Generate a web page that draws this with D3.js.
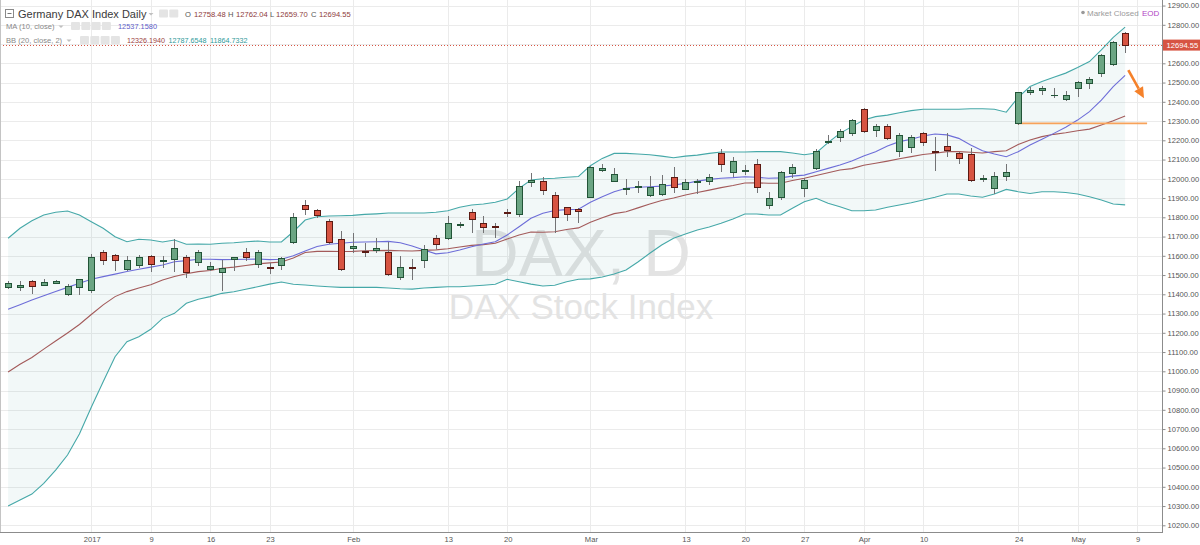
<!DOCTYPE html>
<html><head><meta charset="utf-8">
<script src="https://cdn.jsdelivr.net/npm/d3@7"></script>
<style>
html,body{margin:0;padding:0;background:#fff;overflow:hidden}
svg{display:block}
text{font-family:"Liberation Sans",Arial,sans-serif}
</style>
</head><body>
<svg id="c" width="1200" height="545"></svg>
<script>
// ---------------- DATA ----------------
const dates = [
"2016-12-21","2016-12-22","2016-12-23","2016-12-27","2016-12-28","2016-12-29","2016-12-30",
"2017-01-02","2017-01-03","2017-01-04","2017-01-05","2017-01-06","2017-01-09","2017-01-10","2017-01-11","2017-01-12","2017-01-13",
"2017-01-16","2017-01-17","2017-01-18","2017-01-19","2017-01-20","2017-01-23","2017-01-24","2017-01-25","2017-01-26","2017-01-27",
"2017-01-30","2017-01-31","2017-02-01","2017-02-02","2017-02-03","2017-02-06","2017-02-07","2017-02-08","2017-02-09","2017-02-10",
"2017-02-13","2017-02-14","2017-02-15","2017-02-16","2017-02-17","2017-02-20","2017-02-21","2017-02-22","2017-02-23","2017-02-24",
"2017-02-27","2017-02-28","2017-03-01","2017-03-02","2017-03-03","2017-03-06","2017-03-07","2017-03-08","2017-03-09","2017-03-10",
"2017-03-13","2017-03-14","2017-03-15","2017-03-16","2017-03-17","2017-03-20","2017-03-21","2017-03-22","2017-03-23","2017-03-24",
"2017-03-27","2017-03-28","2017-03-29","2017-03-30","2017-03-31","2017-04-03","2017-04-04","2017-04-05","2017-04-06","2017-04-07",
"2017-04-10","2017-04-11","2017-04-12","2017-04-13","2017-04-18","2017-04-19","2017-04-20","2017-04-21",
"2017-04-24","2017-04-25","2017-04-26","2017-04-27","2017-04-28","2017-05-02","2017-05-03","2017-05-04","2017-05-05","2017-05-08"];
const futureDates = ["2017-05-09"];

const open = [11437,11440,11471,11450,11461,11403,11436,
11421,11621,11603,11530,11554,11601,11572,11582,11592,11569,
11532,11515,11584,11618,11557,11540,11551,11670,11862,11838,
11782,11686,11641,11626,11628,11620,11491,11541,11578,11692,
11691,11761,11829,11772,11755,11827,11816,11984,11987,11915,
11852,11845,11908,12045,11990,11948,11957,11915,11919,12011,
11949,11981,11990,12136,12034,12043,12077,11864,11907,12029,
11954,12055,12190,12216,12236,12364,12253,12274,12143,12167,
12236,12145,12171,12136,12129,11998,11952,12012,
12288,12451,12460,12433,12413,12470,12496,12548,12596,12758.48];
const high = [11468,11469,11473,11478,11476,11452,11482,
11609,11630,11609,11599,11603,11605,11597,11686,11604,11630,
11569,11578,11595,11639,11630,11561,11595,11824,11890,11843,
11790,11730,11720,11668,11691,11673,11599,11585,11656,11706,
11807,11777,11843,11807,11772,11843,11986,12028,12011,11932,
11855,11848,12068,12076,12054,11997,11990,12014,12019,12059,
12001,11997,12025,12153,12112,12071,12101,11932,12041,12076,
12003,12153,12228,12257,12309,12367,12285,12285,12236,12228,
12243,12219,12236,12141,12159,12021,12034,12077,
12453,12479,12483,12470,12458,12508,12527,12647,12716,12762.04];
const low = [11432,11422,11408,11446,11458,11398,11403,
11413,11557,11526,11526,11543,11519,11543,11519,11488,11552,
11526,11422,11526,11578,11543,11509,11533,11665,11816,11803,
11665,11526,11621,11599,11621,11500,11478,11478,11543,11639,
11686,11751,11725,11725,11696,11807,11807,11964,11921,11725,
11786,11777,11905,12040,11988,11919,11933,11911,11914,11933,
11945,11924,11973,12042,12014,12025,11933,11848,11893,12007,
11911,12050,12185,12198,12228,12245,12222,12205,12119,12141,
12176,12045,12119,12084,11990,11987,11925,11994,
12287,12440,12440,12423,12409,12430,12473,12534,12591,12659.70];
const close = [11460,11450,11442,11466,11470,11445,11478,
11592,11578,11578,11578,11592,11560,11578,11639,11514,11621,
11547,11535,11592,11592,11621,11536,11587,11800,11841,11810,
11673,11530,11652,11622,11643,11504,11540,11537,11636,11661,
11768,11766,11790,11751,11752,11822,11963,11994,11944,11800,
11816,11832,12063,12055,12023,11953,11962,11959,11973,11956,
11984,11987,12007,12077,12092,12047,11956,11899,12036,12060,
11994,12145,12197,12250,12305,12250,12276,12210,12226,12219,
12193,12138,12150,12107,11994,12003,12012,12034,
12452,12463,12470,12437,12433,12502,12521,12643,12712,12694.55];

const ma10 = [11322,11346,11370,11392,11414,11436,11457,
11478,11492,11505,11518,11530,11541,11552,11569,11575,11582,
11582,11580,11581,11582,11583,11580,11582,11600,11625,11648,
11660,11665,11670,11672,11673,11675,11668,11651,11630,11610,
11616,11630,11647,11661,11673,11708,11751,11795,11821,11835,
11840,11842,11878,11907,11933,11951,11956,11959,11962,11968,
11976,11988,11997,12003,12006,12011,12008,12003,12005,12014,
12019,12037,12054,12072,12092,12118,12141,12170,12193,12205,
12222,12233,12228,12210,12176,12146,12129,12115,
12141,12176,12205,12236,12268,12305,12349,12409,12479,12537.158];
const bbBasis = [10996,11037,11072,11115,11157,11199,11243,
11295,11345,11388,11414,11433,11450,11474,11492,11507,11518,
11524,11535,11541,11550,11558,11563,11568,11589,11617,11623,
11623,11622,11623,11626,11627,11628,11626,11625,11628,11631,
11637,11646,11654,11658,11665,11687,11708,11724,11722,11725,
11737,11745,11774,11798,11819,11829,11849,11869,11887,11900,
11916,11929,11941,11954,11965,11978,11979,11977,11977,11991,
12003,12017,12031,12046,12053,12070,12081,12092,12104,12115,
12126,12133,12141,12141,12138,12134,12141,12146,
12178,12202,12219,12231,12239,12250,12258,12280,12302,12326.194];
const bbUpper = [11691,11743,11782,11812,11826,11833,11812,
11777,11743,11699,11673,11686,11682,11672,11682,11660,11661,
11660,11665,11668,11673,11677,11672,11672,11725,11786,11803,
11807,11808,11810,11815,11818,11822,11822,11822,11822,11826,
11834,11852,11864,11869,11878,11895,11950,11994,12000,12003,
12008,12012,12068,12106,12132,12132,12129,12125,12118,12109,
12118,12123,12132,12139,12139,12139,12141,12141,12141,12134,
12125,12134,12188,12236,12271,12305,12323,12331,12343,12354,
12361,12361,12361,12361,12364,12364,12361,12346,
12423,12479,12505,12528,12549,12578,12609,12670,12735,12787.6548];
const bbLower = [10300,10331,10362,10418,10487,10565,10674,
10813,10946,11076,11154,11180,11218,11275,11301,11353,11374,
11388,11405,11413,11426,11439,11453,11464,11452,11448,11443,
11439,11436,11436,11436,11436,11433,11429,11427,11433,11436,
11439,11439,11443,11447,11452,11478,11465,11453,11443,11447,
11465,11478,11480,11490,11505,11526,11568,11613,11656,11691,
11713,11734,11750,11769,11791,11817,11817,11812,11812,11847,
11881,11899,11873,11855,11834,11834,11838,11852,11864,11876,
11890,11904,11921,11921,11911,11904,11921,11945,
11933,11924,11933,11933,11929,11921,11907,11890,11869,11864.7332];

const yTickValues = [10200,10300,10400,10500,10600,10700,10800,10900,11000,11100,11200,11300,11400,11500,
11600,11700,11800,11900,12000,12100,12200,12300,12400,12500,12600,12700,12800,12900];
const xTickDates = ["2017-01-02","2017-01-09","2017-01-16","2017-01-23","2017-02-01","2017-02-13","2017-02-20",
"2017-03-01","2017-03-13","2017-03-20","2017-03-27","2017-04-03","2017-04-10","2017-04-24","2017-05-02","2017-05-09"];
const xTickLabels = ["2017","9","16","23","Feb","13","20","Mar","13","20","27","Apr","10","24","May","9"];

const titleText = "Germany DAX Index Daily";
const ohlcLabels = ["O","H","L","C"];
const ohlcValues = ["12758.48","12762.04","12659.70","12694.55"];
const maLegend = "MA (10, close)", maValue = "12537.1580";
const bbLegend = "BB (20, close, 2)", bbValues = ["12326.1940","12787.6548","11864.7332"];
const lastPrice = 12694.55;
const supportLevel = {from:"2017-04-24", to:"2017-05-09", value:12288};
const arrowNote = {from:[94.27,12565], to:[95.59,12418]}; // [bar index, price]

// ---------------- LAYOUT ----------------
const W = 1200, H = 545, plotR = 1162, plotB = 532;
const svg = d3.select("#c");
const allDates = dates.concat(futureDates);
const x = d3.scalePoint().domain(allDates).range([8.1, 1137]);
const step = x.step();
const xi = i => x.range()[0] + i * step;
const y = d3.scaleLinear().domain([10200, 12900]).range([525.3, 5.55]);
const px = v => Math.round(v) + 0.5;

// grid
const grid = svg.append("g");
grid.selectAll("line.h").data(yTickValues).join("line").attr("class","h")
  .attr("x1",0).attr("x2",plotR).attr("y1",d=>px(y(d))).attr("y2",d=>px(y(d)))
  .attr("stroke","#ebebeb").attr("stroke-width",1);
grid.selectAll("line.v").data(xTickDates).join("line").attr("class","v")
  .attr("x1",d=>px(x(d))).attr("x2",d=>px(x(d))).attr("y1",0).attr("y2",plotB)
  .attr("stroke","#ebebeb").attr("stroke-width",1);

// watermark
svg.append("text").attr("x",plotR/2).attr("y",276).attr("text-anchor","middle")
  .attr("font-size",66).attr("fill","#e3e3e3").text("DAX, D");
svg.append("text").attr("x",plotR/2).attr("y",319).attr("text-anchor","middle")
  .attr("font-size",35).attr("fill","#e3e3e3").text("DAX Stock Index");

// Bollinger fill
const idx = d3.range(dates.length);
svg.append("path").datum(idx)
  .attr("d", d3.area().x(i=>x(dates[i])).y0(i=>y(bbLower[i])).y1(i=>y(bbUpper[i])))
  .attr("fill","rgba(25,135,135,0.055)");

const lineGen = arr => d3.line().x(i=>x(dates[i])).y(i=>y(arr[i]))(idx);
svg.append("path").attr("d",lineGen(bbUpper)).attr("fill","none").attr("stroke","#45a8a8").attr("stroke-width",1.1);
svg.append("path").attr("d",lineGen(bbLower)).attr("fill","none").attr("stroke","#45a8a8").attr("stroke-width",1.1);
svg.append("path").attr("d",lineGen(bbBasis)).attr("fill","none").attr("stroke","#a35a5a").attr("stroke-width",1.1);
svg.append("path").attr("d",lineGen(ma10)).attr("fill","none").attr("stroke","#6d6dd8").attr("stroke-width",1.1);

// support line
svg.append("line")
  .attr("x1",x(supportLevel.from)-1).attr("x2",x(supportLevel.to)+step*0.85)
  .attr("y1",y(supportLevel.value)).attr("y2",y(supportLevel.value))
  .attr("stroke","#f7a25a").attr("stroke-width",1.6);

// last price dotted line
svg.append("line").attr("x1",0).attr("x2",plotR)
  .attr("y1",px(y(lastPrice))).attr("y2",px(y(lastPrice)))
  .attr("stroke","#d75442").attr("stroke-width",1).attr("stroke-dasharray","1,2");

// candles
const cg = svg.append("g");
idx.forEach(i=>{
  const up = close[i] >= open[i];
  const c = Math.round(x(dates[i]));
  cg.append("line").attr("x1",c+0.5).attr("x2",c+0.5)
    .attr("y1",Math.round(y(high[i]))).attr("y2",Math.round(y(low[i]))+1)
    .attr("stroke","#737375").attr("stroke-width",1);
  const yt = Math.round(y(Math.max(open[i],close[i])));
  const yb = Math.round(y(Math.min(open[i],close[i])));
  cg.append("rect").attr("x",c-3+0.5).attr("y",yt+0.5)
    .attr("width",6).attr("height",Math.max(yb-yt,0.01))
    .attr("fill",up?"#6ba583":"#d75442")
    .attr("stroke",up?"#225437":"#5b1a13").attr("stroke-width",1);
});

// arrow annotation
(function(){
  const x1 = xi(arrowNote.from[0]), y1 = y(arrowNote.from[1]);
  const x2 = xi(arrowNote.to[0]), y2 = y(arrowNote.to[1]);
  const ang = Math.atan2(y2-y1, x2-x1), hl = 11, hw = 5;
  const bx = x2 - hl*Math.cos(ang), by = y2 - hl*Math.sin(ang);
  svg.append("line").attr("x1",x1).attr("y1",y1).attr("x2",bx).attr("y2",by)
    .attr("stroke","#f5812a").attr("stroke-width",2.6);
  const nx = -Math.sin(ang), ny = Math.cos(ang);
  svg.append("path").attr("d",`M${x2},${y2}L${bx+nx*hw},${by+ny*hw}L${bx-nx*hw},${by-ny*hw}Z`)
    .attr("fill","#f5812a");
})();

// borders / axes lines
svg.append("line").attr("x1",0.5).attr("x2",0.5).attr("y1",0).attr("y2",plotB).attr("stroke","#c4c4c4");
svg.append("line").attr("x1",plotR+0.5).attr("x2",plotR+0.5).attr("y1",0).attr("y2",plotB+0.5).attr("stroke","#8c8c8c");
svg.append("line").attr("x1",0).attr("x2",plotR+1).attr("y1",plotB+0.5).attr("y2",plotB+0.5).attr("stroke","#8c8c8c");

// right axis
const yAxis = d3.axisRight(y).tickValues(yTickValues).tickFormat(d3.format(".2f")).tickSize(3).tickPadding(2);
const ya = svg.append("g").attr("transform",`translate(${plotR+0.5},0)`).call(yAxis);
ya.select(".domain").remove();
ya.selectAll(".tick line").attr("stroke","#8c8c8c");
ya.selectAll(".tick text").attr("fill","#555").attr("font-size",7.6).attr("font-family","Liberation Sans, Arial, sans-serif");

// bottom axis
const xAxis = d3.axisBottom(x).tickValues(xTickDates).tickFormat((d,i)=>xTickLabels[i]).tickSize(0).tickPadding(5);
const xa = svg.append("g").attr("transform",`translate(0.5,${plotB})`).call(xAxis);
xa.select(".domain").remove();
xa.selectAll(".tick text").attr("fill","#555").attr("font-size",7.6).attr("font-family","Liberation Sans, Arial, sans-serif");

// last price label
const yp = y(lastPrice);
svg.append("rect").attr("x",plotR+1).attr("y",yp-5.5).attr("width",W-plotR-1).attr("height",11).attr("fill","#d75442");
svg.append("text").attr("x",plotR+4.5).attr("y",yp+2.8).attr("font-size",7.6).attr("fill","#fff").text(lastPrice.toFixed(2));

// header legend
const hdr = svg.append("g");
hdr.append("rect").attr("x",5.5).attr("y",9.5).attr("width",8).attr("height",8).attr("fill","#fff").attr("stroke","#8a8a8a");
hdr.append("line").attr("x1",7.5).attr("x2",11.5).attr("y1",13.5).attr("y2",13.5).attr("stroke","#777");
hdr.append("text").attr("x",18).attr("y",18).attr("font-size",11).attr("fill","#3a3a3a").text(titleText);
const caret = (cx,cy)=>hdr.append("path").attr("d",`M${cx-2.5},${cy-1}L${cx+2.5},${cy-1}L${cx},${cy+1.5}Z`).attr("fill","#c0c0c0");
const icons = (x0,yc,n)=>{ for(let k=0;k<n;k++) hdr.append("rect").attr("x",x0+k*10.3).attr("y",yc-4).attr("width",9).attr("height",8).attr("rx",1).attr("fill","#e4e4e4"); };
caret(151,14); icons(159,13.5,2);
const ohlcX = [185,228,270,311], ohlcVX=[194,236,276,319];
ohlcLabels.forEach((l,k)=>{
  hdr.append("text").attr("x",ohlcX[k]).attr("y",17).attr("font-size",7.6).attr("fill","#555").text(l);
  hdr.append("text").attr("x",ohlcVX[k]).attr("y",17).attr("font-size",7.6).attr("fill","#8e3b3b").text(ohlcValues[k]);
});
hdr.append("text").attr("x",6).attr("y",28.8).attr("font-size",7.6).attr("fill","#888").text(maLegend);
caret(61,26.5); icons(71,26,4);
hdr.append("text").attr("x",118).attr("y",28.8).attr("font-size",7.4).attr("fill","#5c5cc8").text(maValue);
hdr.append("text").attr("x",6).attr("y",42.8).attr("font-size",7.6).attr("fill","#888").text(bbLegend);
caret(69,40.5); icons(80,40,4);
const bbCols = ["#9c3e3e","#2e9a9a","#2e9a9a"];
let bx0 = 127;
bbValues.forEach((v,k)=>{
  const t = hdr.append("text").attr("x",bx0).attr("y",42.8).attr("font-size",7.2).attr("fill",bbCols[k]).text(v);
  bx0 += t.node().getComputedTextLength() + 3.5;
});

// market status
svg.append("circle").attr("cx",1083).attr("cy",12.5).attr("r",1.8).attr("fill","#999");
svg.append("text").attr("x",1087).attr("y",15.5).attr("font-size",8).attr("fill","#9a9a9a").text("Market Closed");
svg.append("text").attr("x",1142).attr("y",15.5).attr("font-size",8).attr("fill","#b044c4").text("EOD");
</script>
</body></html>
